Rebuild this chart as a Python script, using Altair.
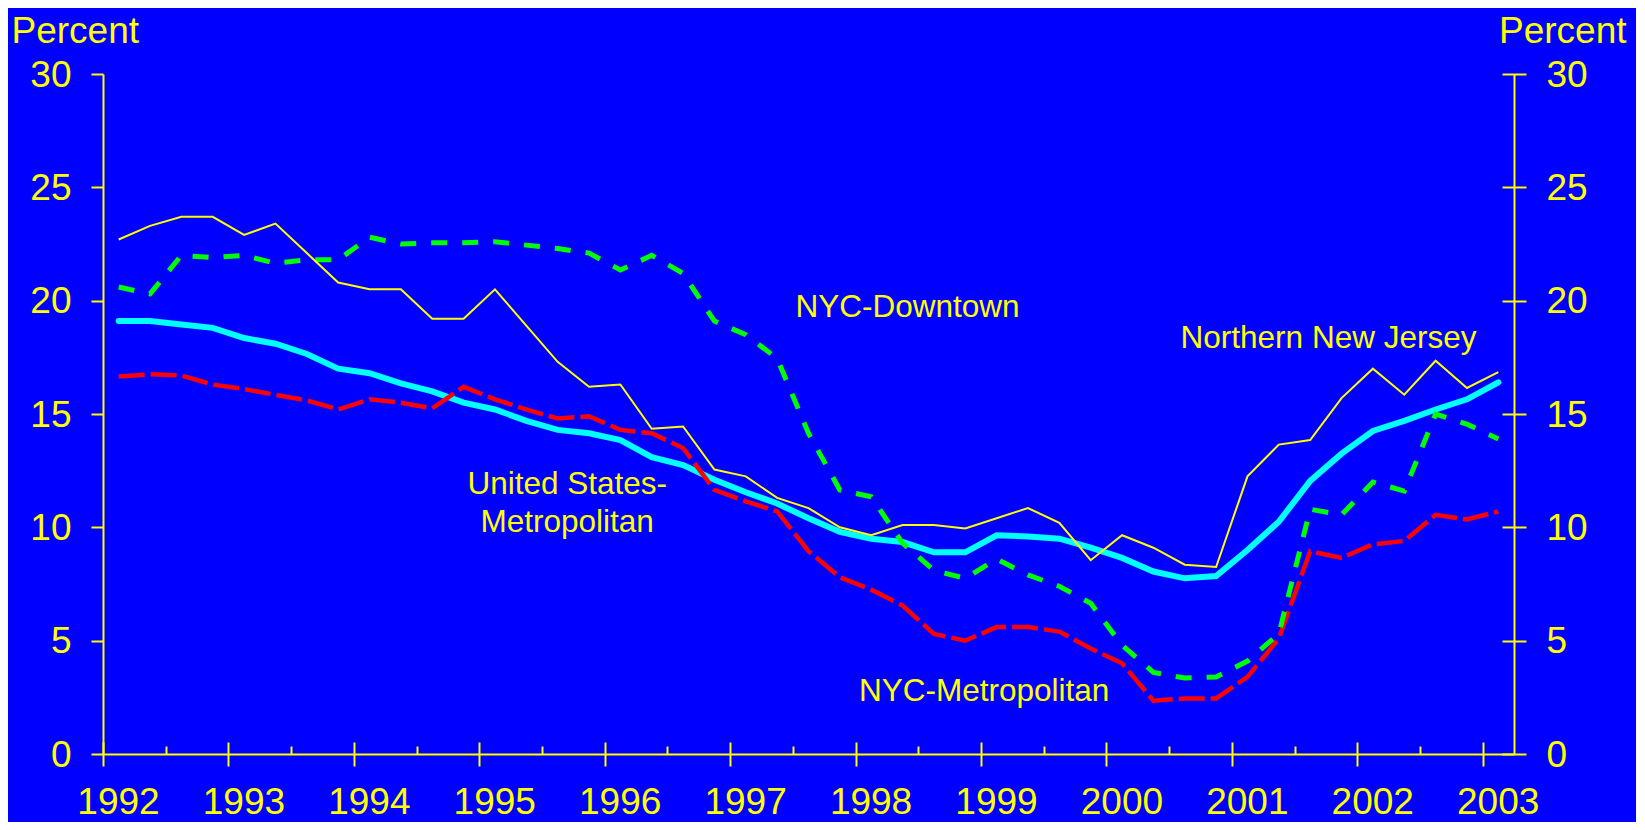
import altair as alt
import pandas as pd

# ---------------- data (quarterly, 1992Q1 .. 2003Q1) ----------------
quarter_years = [y for y in range(1992, 2003) for _ in range(4)] + [2003]
quarter_nums = [q for _ in range(1992, 2003) for q in range(1, 5)] + [1]

northern_nj = [22.7, 23.3, 23.7, 23.7, 22.9, 23.4, 22.1, 20.8, 20.5, 20.5, 19.2, 19.2, 20.5, 18.9, 17.3,
               16.2, 16.3, 14.35, 14.45, 12.55, 12.25, 11.3, 10.85, 10.0, 9.65, 10.1, 10.1, 9.95, 10.4, 10.85,
               10.2, 8.55, 9.65, 9.1, 8.35, 8.25, 12.25, 13.65, 13.85, 15.7, 17.0, 15.85, 17.35, 16.15, 16.85]
nyc_downtown = [20.6, 20.3, 22.0, 21.9, 22.0, 21.65, 21.8, 21.8, 22.8, 22.5, 22.55, 22.55, 22.6, 22.45, 22.3,
                22.1, 21.35, 22.0, 21.2, 19.1, 18.5, 17.45, 14.15, 11.65, 11.35, 9.3, 8.1, 7.75, 8.6, 7.9,
                7.4, 6.65, 4.8, 3.6, 3.35, 3.4, 4.1, 5.3, 10.8, 10.55, 12.0, 11.6, 15.0, 14.55, 13.9]
us_metro = [19.1, 19.1, 18.95, 18.8, 18.35, 18.1, 17.65, 17.0, 16.8, 16.35, 16.0, 15.5, 15.2, 14.7, 14.3,
            14.15, 13.85, 13.1, 12.75, 12.1, 11.55, 11.05, 10.4, 9.8, 9.5, 9.35, 8.9, 8.9, 9.65, 9.6,
            9.5, 9.1, 8.65, 8.05, 7.75, 7.85, 9.0, 10.25, 12.05, 13.25, 14.25, 14.7, 15.2, 15.65, 16.4]
nyc_metro = [16.65, 16.75, 16.7, 16.3, 16.1, 15.85, 15.6, 15.2, 15.65, 15.5, 15.25, 16.2, 15.65, 15.2, 14.8,
             14.9, 14.3, 14.15, 13.5, 11.65, 11.15, 10.7, 8.95, 7.8, 7.25, 6.55, 5.3, 5.0, 5.6, 5.6,
             5.4, 4.65, 4.0, 2.35, 2.45, 2.45, 3.4, 5.1, 8.95, 8.65, 9.25, 9.4, 10.55, 10.35, 10.7]

series_names = ["Northern New Jersey", "NYC-Downtown", "United States-Metropolitan", "NYC-Metropolitan"]

year_ticks = list(range(1992, 2004))
half_year_ticks = [1992.5, 1993.5, 1994.5, 1995.5, 1996.5, 1997.5, 1998.5, 1999.5, 2000.5, 2001.5, 2002.5]
percent_ticks = [0, 5, 10, 15, 20, 25, 30]

label_texts = ["NYC-Downtown", "Northern New Jersey", "United States-", "Metropolitan", "NYC-Metropolitan"]
label_x = [1998.415, 2001.771, 1995.701, 1995.701, 1999.025]
label_y = [19.30, 17.91, 11.48, 9.78, 2.32]

# ---------------- build tables ----------------
t_vals = [y + (q - 0.5) / 4 for y, q in zip(quarter_years, quarter_nums)]
rows = []
for name, vals in zip(series_names, [northern_nj, nyc_downtown, us_metro, nyc_metro]):
    for t, v in zip(t_vals, vals):
        rows.append({"t": t, "v": v, "series": name})
df = pd.DataFrame(rows)
labels_df = pd.DataFrame({"t": label_x, "v": label_y, "text": label_texts})

YEL = "#FFFF00"
BG = "#0000FF"
FONT = "Liberation Sans"
W, H = 1411, 680

xs = alt.Scale(domain=[1992, 2003.25], nice=False, zero=False)
ys = alt.Scale(domain=[0, 30], nice=False, zero=False)

common_axis = dict(grid=False, tickColor=YEL, tickWidth=2, domainColor=YEL, domainWidth=2,
                   labelColor=YEL, labelFont=FONT, titleFont=FONT, titleColor=YEL,
                   titleFontWeight="normal", labelFlush=False, labelOverlap=False)

base = alt.Chart(df)

# cyan: US metro, with right-axis domain line and right title
cyan = base.transform_filter(alt.datum.series == "United States-Metropolitan").mark_line(
    color="#00FFFF", strokeWidth=6, strokeCap="round"
).encode(
    x=alt.X("t:Q", scale=xs, axis=None),
    y=alt.Y("v:Q", scale=ys, axis=alt.Axis(
        orient="right", values=percent_ticks, ticks=False, labels=False, domain=True,
        title="Percent", titleAngle=0, titleAlign="right", titleBaseline="alphabetic",
        titleX=112, titleY=-32, titleFontSize=37, **common_axis)),
)

# red: NYC metro, with right-axis crossing ticks and labels
red = base.transform_filter(alt.datum.series == "NYC-Metropolitan").mark_line(
    color="#FF0000", strokeWidth=4.5, strokeDash=[26, 6]
).encode(
    x=alt.X("t:Q", scale=xs, axis=None),
    y=alt.Y("v:Q", scale=ys, axis=alt.Axis(
        orient="right", offset=-12, values=percent_ticks, tickSize=24, domain=False,
        labelPadding=20, labelFontSize=37, labelOffset=1, title=None, **common_axis)),
)

# green: NYC downtown, with x-axis domain line and inward half-year ticks
green = base.transform_filter(alt.datum.series == "NYC-Downtown").mark_line(
    color="#00FF00", strokeWidth=5, strokeDash=[16, 15]
).encode(
    x=alt.X("t:Q", scale=xs, axis=alt.Axis(
        orient="top", offset=-H, values=half_year_ticks, tickSize=8, labels=False,
        domain=True, title=None, **common_axis)),
    y=alt.Y("v:Q", scale=ys, axis=None),
)

# yellow: Northern NJ, with year ticks/labels and left axis
yellow = base.transform_filter(alt.datum.series == "Northern New Jersey").mark_line(
    color=YEL, strokeWidth=2
).encode(
    x=alt.X("t:Q", scale=xs, axis=alt.Axis(
        orient="bottom", offset=-12, values=year_ticks, format="d", tickSize=24,
        domain=False, labelPadding=18, labelOffset=15, labelFontSize=37, title=None,
        **common_axis)),
    y=alt.Y("v:Q", scale=ys, axis=alt.Axis(
        orient="left", values=percent_ticks, tickSize=12, domain=True,
        labelPadding=20, labelFontSize=37, labelOffset=1,
        title="Percent", titleAngle=0, titleAlign="left", titleBaseline="alphabetic",
        titleX=-92, titleY=-32, titleFontSize=37, **common_axis)),
)

texts = alt.Chart(labels_df).mark_text(
    color=YEL, font=FONT, fontSize=31.5, align="center", baseline="alphabetic"
).encode(
    x=alt.X("t:Q", scale=xs, axis=None),
    y=alt.Y("v:Q", scale=ys, axis=None),
    text="text:N",
)

chart = alt.layer(cyan, red, green, yellow, texts).resolve_axis(
    x="independent", y="independent"
).properties(
    width=W, height=H,
    autosize=alt.AutoSizeParams(type="none"),
    padding={"left": 95, "top": 66, "right": 122, "bottom": 68},
    background=BG,
).configure_view(strokeWidth=0)

chart.save("out.html", embed_options={"renderer": "svg", "actions": False})
